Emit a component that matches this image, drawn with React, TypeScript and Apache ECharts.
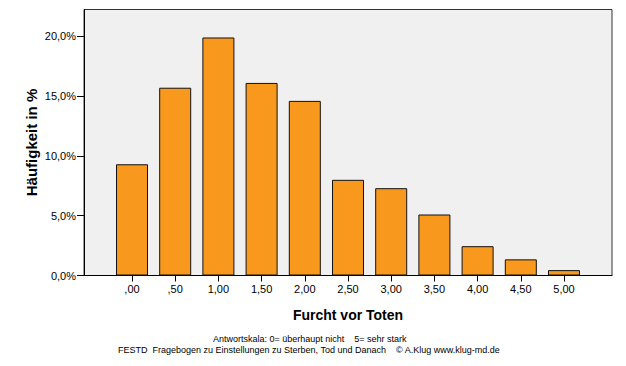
import React, { useEffect, useRef } from "react";
import * as echarts from "echarts";

const categories = [0, 0.5, 1, 1.5, 2, 2.5, 3, 3.5, 4, 4.5, 5];
const tickLabels = [",00", ",50", "1,00", "1,50", "2,00", "2,50", "3,00", "3,50", "4,00", "4,50", "5,00"];
const percentValues = [9.3, 15.7, 19.9, 16.1, 14.6, 8.0, 7.3, 5.1, 2.45, 1.35, 0.45];
const yTicks = [0, 5, 10, 15, 20];
const yTickLabels = ["0,0%", "5,0%", "10,0%", "15,0%", "20,0%"];
const xTitle = "Furcht vor Toten";
const yTitle = "Häufigkeit in %";
const footLine1 = "Antwortskala: 0= überhaupt nicht    5= sehr stark";
const footLine2 = "FESTD  Fragebogen zu Einstellungen zu Sterben, Tod und Danach    © A.Klug www.klug-md.de";

export default function App() {
  const ref = useRef<HTMLDivElement>(null);
  useEffect(() => {
    if (!ref.current) return;
    const chart = echarts.init(ref.current, null, { renderer: "svg" });
    const font = "Liberation Sans, Arial, sans-serif";
    chart.setOption({
      animation: false,
      backgroundColor: "#ffffff",
      grid: {
        left: 84,
        right: 14,
        top: 9.5,
        bottom: 90.5,
        show: true,
        backgroundColor: "#f0f0f0",
        borderColor: "#333333",
        borderWidth: 1,
      },
      xAxis: {
        type: "value",
        min: -0.5556,
        max: 5.5556,
        name: xTitle,
        nameLocation: "middle",
        nameGap: 32,
        nameMoveOverlap: false,
        nameTextStyle: { fontFamily: font, fontSize: 14, fontWeight: "bold", color: "#000" },
        axisLine: { show: true, onZero: false, lineStyle: { color: "#000", width: 1 } },
        axisTick: { show: true, length: 6, lineStyle: { color: "#000" }, customValues: categories },
        axisLabel: {
          customValues: categories,
          fontFamily: font,
          fontSize: 11,
          color: "#000",
          margin: 8,
          formatter: (v: number) => {
            const i = categories.findIndex((c) => Math.abs(c - v) < 1e-6);
            return i >= 0 ? tickLabels[i] : "";
          },
        },
        splitLine: { show: false },
      },
      yAxis: {
        type: "value",
        min: 0,
        max: 22.24,
        name: yTitle,
        nameLocation: "middle",
        nameGap: 45,
        nameMoveOverlap: false,
        nameTextStyle: { fontFamily: font, fontSize: 15, fontWeight: "bold", color: "#000" },
        axisLine: { show: true, onZero: false, lineStyle: { color: "#000", width: 1 } },
        axisTick: { show: true, length: 7, lineStyle: { color: "#000" }, customValues: yTicks },
        axisLabel: {
          customValues: yTicks,
          fontFamily: font,
          fontSize: 11,
          color: "#000",
          margin: 8,
          formatter: (v: number) => {
            const i = yTicks.findIndex((c) => Math.abs(c - v) < 1e-6);
            return i >= 0 ? yTickLabels[i] : "";
          },
        },
        splitLine: { show: false },
      },
      series: [
        {
          type: "bar",
          barWidth: 32,
          data: categories.map((c, i) => [c, percentValues[i]]),
          itemStyle: {
            color: "#f8991e",
            borderColor: "#111111",
            borderWidth: 1,
          },
        },
      ],
      graphic: [
        {
          type: "text",
          left: 213,
          top: 334,
          style: { text: footLine1, fontFamily: font, fontSize: 9, fill: "#000" },
        },
        {
          type: "text",
          left: 118,
          top: 345,
          style: { text: footLine2, fontFamily: font, fontSize: 9, fill: "#000" },
        },
      ],
    });
    return () => chart.dispose();
  }, []);
  return (
    <div
      ref={ref}
      style={{ position: "fixed", left: 0, top: 0, width: 626, height: 366 }}
    />
  );
}
